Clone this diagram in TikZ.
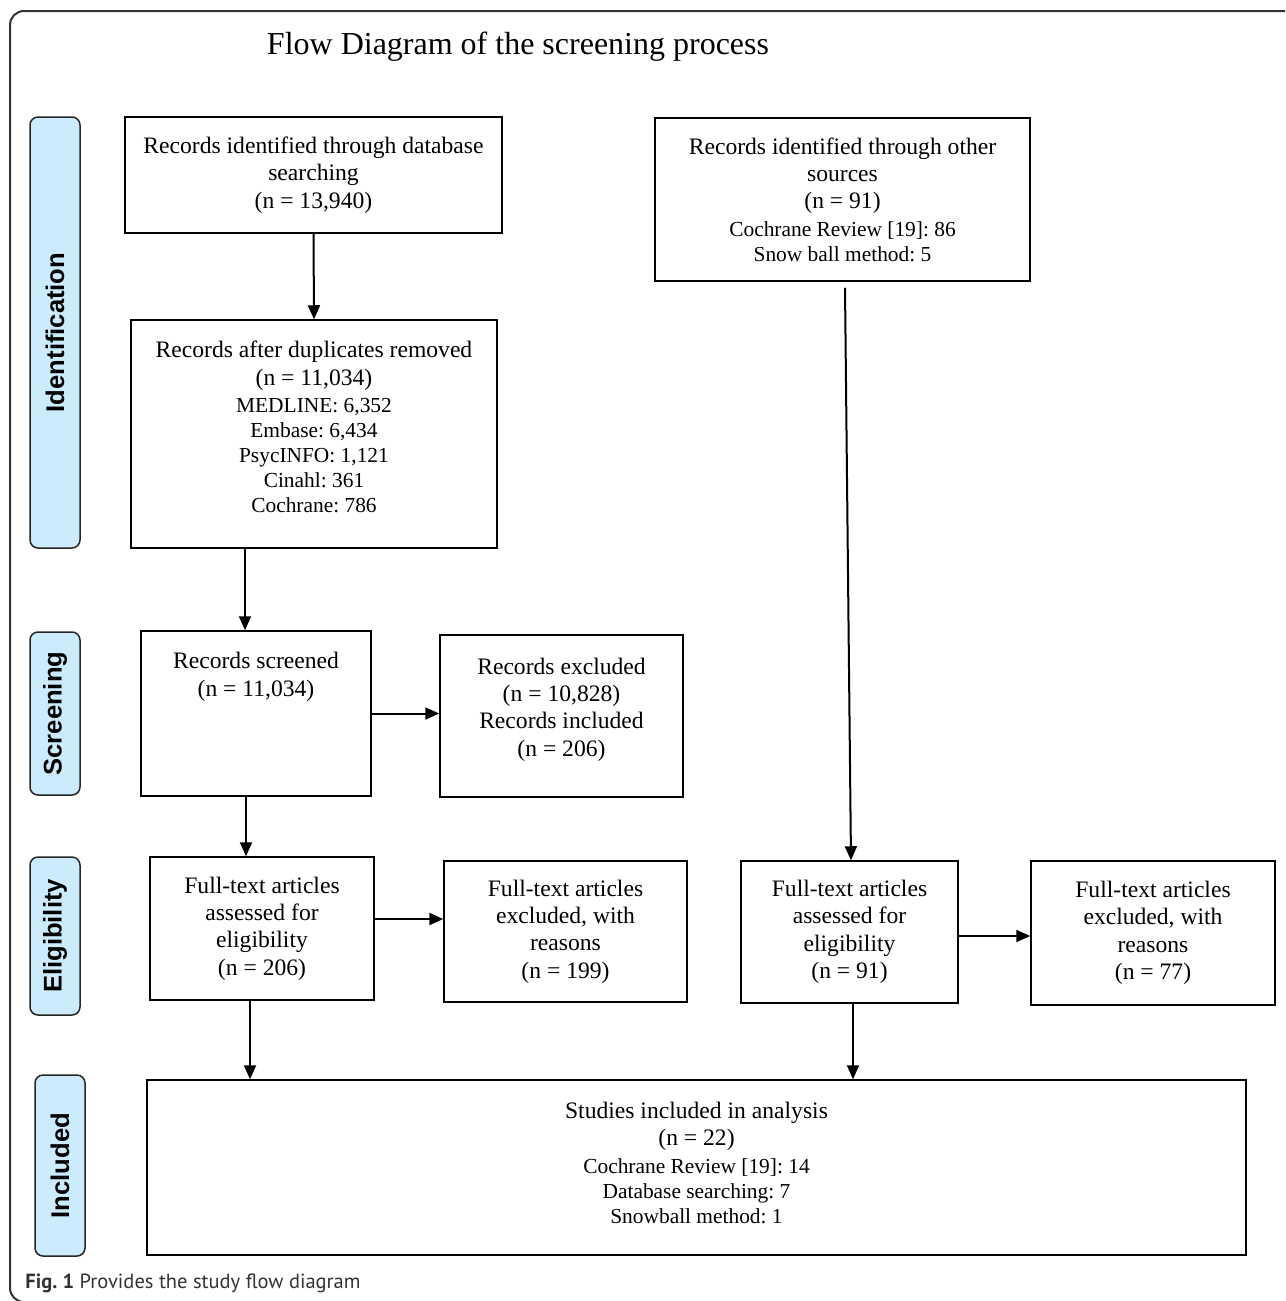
\documentclass[tikz,border=0pt]{standalone}
\usepackage{fontspec}
\setmainfont{Liberation Serif}
\newfontfamily\labfont{Liberation Sans}
\newfontfamily\capfont{PT Sans}
\usetikzlibrary{arrows.meta}
\frenchspacing
\newcommand\bigtxt{\fontsize{11.8}{13.7}\selectfont}
\newcommand\smtxt{\fontsize{10.7}{12.4}\selectfont}
\definecolor{stagefill}{HTML}{CCEBFC}

\begin{document}
\begin{tikzpicture}[x=0.5pt,y=-0.5pt,
  box/.style={draw,line width=0.75pt,align=center,inner sep=0pt,font=\bigtxt},
  stage/.style={draw=black!85,line width=0.75pt,fill=stagefill,rounded corners=4pt,rotate=90,inner sep=0pt,minimum height=25pt,font=\labfont\bfseries\fontsize{12.8}{14}\selectfont},
  arr/.style={line width=1pt,-{Triangle[width=6pt,length=7pt]}}]
        \useasboundingbox (0,0) rectangle (1285,1301);
        \clip (0,0) rectangle (1285,1301);
        \draw[black!80,line width=1pt,rounded corners=7pt] (10,11) rectangle (1320,1302); % outer frame
        \node[font=\fontsize{16}{19}\selectfont] (title) at (518,47) {Flow Diagram of the screening process};
        % stage labels
        \node[stage,minimum width=215.5pt] (idlab) at (55,332.5) {Identification};
        \node[stage,minimum width=81.5pt] (scrlab) at (55,713.5) {Screening};
        \node[stage,minimum width=79pt] (elilab) at (55,936) {Eligibility};
        \node[stage,minimum width=90.5pt] (inclab) at (60,1165.5) {Included};
        % boxes
        \node[box,minimum width=188.5pt,minimum height=58pt] (dbrec) at (313.5,175) {Records identified through database\\searching\\(n = 13,940)};
        \node[box,minimum width=183pt,minimum height=114pt] (dedup) at (314,434) {Records after duplicates removed\\(n = 11,034)\\\smtxt MEDLINE: 6,352\\[-1.2pt]\smtxt Embase: 6,434\\[-1.2pt]\smtxt PsycINFO: 1,121\\[-1.2pt]\smtxt Cinahl: 361\\[-1.2pt]\smtxt Cochrane: 786\\[-6.7pt]\mbox{}};
        \node[box,minimum width=187.5pt,minimum height=81.5pt] (other) at (842.5,199.5) {Records identified through other\\sources\\(n = 91)\\\smtxt Cochrane Review [19]: 86\\[-1.2pt]\smtxt Snow ball method: 5};
        \node[box,minimum width=115pt,minimum height=82.5pt] (screened) at (256,713.5) {Records screened\\(n = 11,034)\\[25.3pt]\mbox{}};
        \node[box,minimum width=121.5pt,minimum height=81pt] (excl) at (561.5,716) {Records excluded\\(n = 10,828)\\Records included\\(n = 206)\\[-4.7pt]\mbox{}};
        \node[box,minimum width=112pt,minimum height=71.5pt] (ftdb) at (262,928.5) {Full-text articles\\assessed for\\eligibility\\(n = 206)};
        \node[box,minimum width=121.5pt,minimum height=70.5pt] (ftdbex) at (565.5,931.5) {Full-text articles\\excluded, with\\reasons\\(n = 199)};
        \node[box,minimum width=108.5pt,minimum height=71pt] (ftoth) at (849.5,932) {Full-text articles\\assessed for\\eligibility\\(n = 91)};
        \node[box,minimum width=122pt,minimum height=72pt] (ftothex) at (1153,933) {Full-text articles\\excluded, with\\reasons\\(n = 77)};
        \node[box,minimum width=549.5pt,minimum height=87.5pt] (incl) at (696.5,1167.5) {Studies included in analysis\\(n = 22)\\\smtxt Cochrane Review [19]: 14\\[-1.2pt]\smtxt Database searching: 7\\[-1.2pt]\smtxt Snowball method: 1\\[-8.7pt]\mbox{}};
        % connectors
        \coordinate (bd) at ([xshift=-34.5pt]dedup.south);
        \coordinate (df) at ([xshift=-5pt]screened.south);
        \coordinate (fg) at ([yshift=4.75pt]ftdb.east);
        \coordinate (hi) at ([yshift=-2pt]ftoth.east);
        \coordinate (ch) at ([xshift=1.25pt,yshift=-3pt]other.south);
        \coordinate (fj) at ([xshift=-6pt]ftdb.south);
        \coordinate (hj) at ([xshift=1.75pt]ftoth.south);
        \draw[arr] (dbrec.south) -- (dedup.north);
        \draw[arr] (bd) -- (bd |- screened.north);
        \draw[arr] (screened.east) -- (screened.east -| excl.west);
        \draw[arr] (df) -- (df |- ftdb.north);
        \draw[arr] (fg) -- (fg -| ftdbex.west);
        \draw[arr] (ch) -- ([xshift=0.75pt]ftoth.north);
        \draw[arr] (hi) -- (hi -| ftothex.west);
        \draw[arr] (fj) -- (fj |- incl.north);
        \draw[arr] (hj) -- (hj |- incl.north);
        \node[anchor=west,inner sep=0pt,font=\capfont\fontsize{10.25}{13}\selectfont,text=black!80] (cap) at (25,1283) {\textbf{Fig. 1} Provides the study flow diagram};
\end{tikzpicture}
\end{document}
